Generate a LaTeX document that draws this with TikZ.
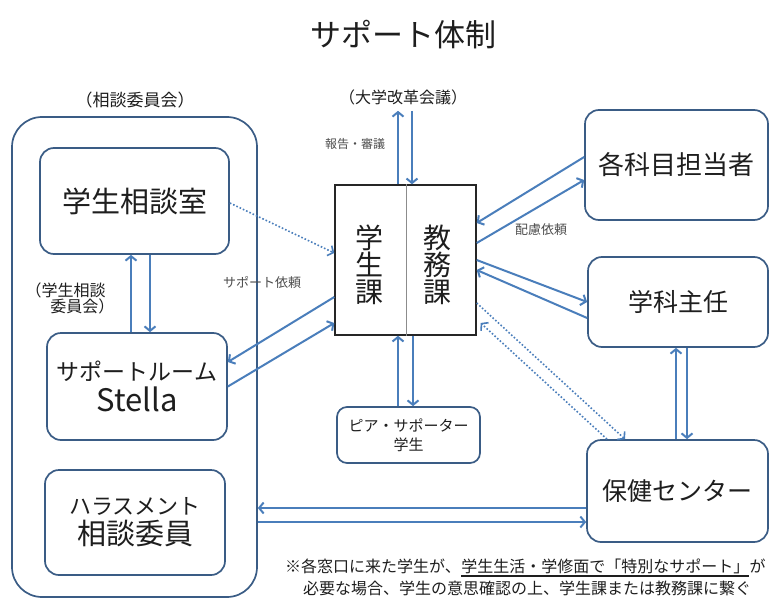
\documentclass[tikz,border=0pt]{standalone}
\usepackage{fontspec}
\setmainfont{Noto Sans CJK JP}
\usetikzlibrary{arrows.meta}
\definecolor{arrowblue}{HTML}{4A7EBB}
\definecolor{boxblue}{HTML}{3A5C85}
\definecolor{txt}{HTML}{1E1E1E}
\newcommand{\fs}[1]{\fontsize{#1}{#1}\selectfont}
\begin{document}
\begin{tikzpicture}[x=1pt,y=-1pt,
  rbox/.style={draw=boxblue, line width=1.7pt, rounded corners=14pt, fill=white, text=txt, align=center, inner sep=0pt},
  arr/.style={draw=arrowblue, line width=2pt, -{Straight Barb[length=4.5pt,width=11pt]}},
  dotarr/.style={draw=arrowblue, line width=1.6pt, dotted, -{Straight Barb[length=4.5pt,width=11pt]}},
  lbl/.style={text=txt, inner sep=1pt}]
\useasboundingbox (0,0) rectangle (770,599);
\clip (0,0) rectangle (770,599);
% title
\node[lbl, font=\fs{31}] (title) at (403,35) {サポート体制};
% left group
\node[rbox, rounded corners=30pt, minimum width=245pt, minimum height=480pt] (outer) at (134.5,357) {};
\node[lbl, font=\fs{17}] (iinkai) at (135,100) {（相談委員会）};
\node[rbox, minimum width=189pt, minimum height=106pt, font=\fs{29}] (soudan) at (134.5,201) {学生相談室};
\node[rbox, minimum width=180pt, minimum height=107pt] (stella) at (137,386.5) {{\fs{23}サポートルーム}\\[4pt]{\fs{31}Stella}};
\node[rbox, minimum width=180pt, minimum height=105pt] (hara) at (135,522.5) {{\fs{22}ハラスメント}\\[4pt]{\fs{29}相談委員}};
\node[lbl, font=\fs{16}, align=left] (gsi) at (70,298) {（学生相談\\\hspace{1.55em}委員会）};
% center
\node[draw=black!85, line width=1.4pt, fill=white, minimum width=141pt, minimum height=150pt, inner sep=0pt] (ka) at (405.5,260) {};
\draw[black!45, line width=0.8pt] ([xshift=0.5pt]ka.north) -- ([xshift=0.5pt]ka.south);
\node[lbl, font=\fs{28}, align=center] (gakusei) at (369,265) {学\\[-1pt]生\\[-1pt]課};
\node[lbl, font=\fs{28}, align=center] (kyomu) at (437,265) {教\\[-1pt]務\\[-1pt]課};
\node[lbl, font=\fs{16}] (kaigi) at (403,97) {（大学改革会議）};
\node[rbox, rounded corners=10pt, minimum width=143pt, minimum height=56pt] (peer) at (408.5,435) {{\fs{15}ピア・サポーター}\\[5pt]{\fs{15}学生}};
% right
\node[rbox, minimum width=183pt, minimum height=110pt, font=\fs{26}] (kamoku) at (676.5,165) {各科目担当者};
\node[rbox, minimum width=180pt, minimum height=90pt, font=\fs{25}] (shunin) at (678,302) {学科主任};
\node[rbox, minimum width=181pt, minimum height=102pt, font=\fs{25}] (hoken) at (677.5,491) {保健センター};
% labels
\node[lbl, font=\fs{12}, text=black!70] (houkoku) at (355,144) {報告・審議};
\node[lbl, font=\fs{13}, text=black!70] (hairyo) at (541,230) {配慮依頼};
\node[lbl, font=\fs{13}, text=black!70] (irai) at (262,283) {サポート依頼};
% connectors
\draw[arr] ([xshift=-6pt]stella.north) -- ([xshift=-6pt]stella.north |- soudan.south);
\draw[arr] ([xshift=13pt]stella.north |- soudan.south) -- ([xshift=13pt]stella.north);
\draw[arr, shorten >=5pt] ([xshift=-7.5pt]ka.north) -- ([xshift=-7.5pt]ka.north |- kaigi.south);
\draw[arr, shorten <=5pt] ([xshift=6.5pt]ka.north |- kaigi.south) -- ([xshift=6.5pt]ka.north);
\draw[arr] ([xshift=-10.5pt]peer.north) -- ([xshift=-10.5pt]peer.north |- ka.south);
\draw[arr] ([xshift=4.5pt]peer.north |- ka.south) -- ([xshift=4.5pt]peer.north);
\draw[arr] ([xshift=-1.5pt]hoken.north) -- ([xshift=-1.5pt]hoken.north |- shunin.south);
\draw[arr] ([xshift=9.5pt]hoken.north |- shunin.south) -- ([xshift=9.5pt]hoken.north);
\draw[arr] ([yshift=8pt]kamoku.west) -- ([yshift=37pt]ka.east);
\draw[arr] ([yshift=17pt]ka.east) -- ([yshift=-15pt]kamoku.west);
\draw[arr] (ka.east) -- (shunin.west);
\draw[arr] ([yshift=-16pt]shunin.west) -- ([yshift=-10pt]ka.east);
\draw[dotarr] ([yshift=-43pt]ka.east) -- ([xshift=-52.5pt]hoken.north);
\draw[dotarr] ([xshift=-70.5pt]hoken.north) -- ([xshift=4pt,yshift=-63pt]ka.east);
\draw[dotarr] ([yshift=-2pt]soudan.east) -- ([yshift=7pt]ka.west);
\draw[arr] ([yshift=-37pt]ka.west) -- ([yshift=24.5pt]stella.east);
\draw[arr] (stella.east) -- ([yshift=-63pt]ka.west);
\draw[arr] ([yshift=-17pt]hoken.west) -- ([yshift=-17pt]hoken.west -| outer.east);
\draw[arr] ([yshift=-31pt]hoken.west -| outer.east) -- ([yshift=-31pt]hoken.west);
% footnote
\node[lbl, anchor=base west, font=\fs{16}, inner sep=0pt] (note1a) at (285,572) {※各窓口に来た学生が、};
\node[lbl, anchor=base west, font=\fs{16}, inner sep=0pt] (note1b) at (note1a.base east) {学生生活・学修面で「特別なサポート」};
\node[lbl, anchor=base west, font=\fs{16}, inner sep=0pt] (note1c) at (note1b.base east) {が};
\draw[draw=txt, line width=1.1pt] ([yshift=-4pt]note1b.base west) -- ([yshift=-4pt]note1b.base east);
\node[lbl, anchor=west, font=\fs{16}, inner sep=0pt] (note2) at (303,588) {必要な場合、学生の意思確認の上、学生課または教務課に繋ぐ};
\end{tikzpicture}
\end{document}
